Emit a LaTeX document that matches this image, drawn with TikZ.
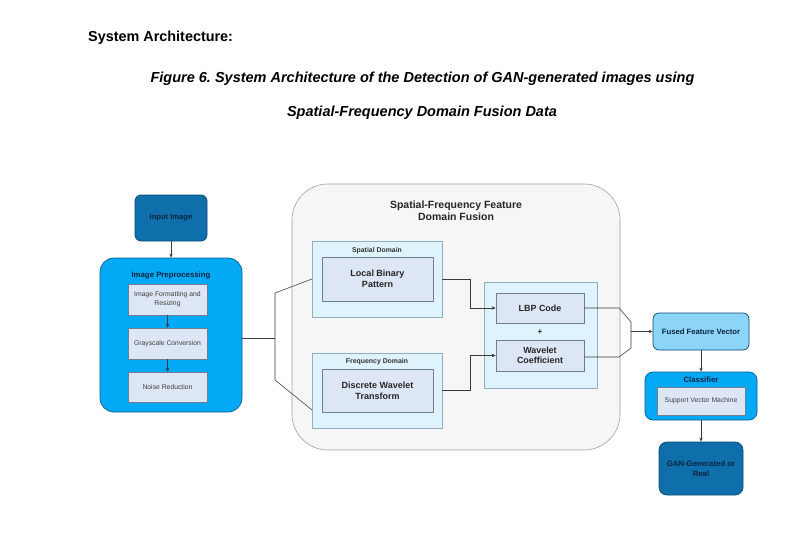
\documentclass[tikz,border=0pt]{standalone}
\usepackage{fontspec}
\setmainfont{Liberation Sans}
\usetikzlibrary{arrows.meta,calc}
\frenchspacing
\definecolor{darkfill}{HTML}{0E6FAA}
\definecolor{darkline}{HTML}{0A4A75}
\definecolor{brightfill}{HTML}{03A9F4}
\definecolor{brightline}{HTML}{0B5C8F}
\definecolor{innerfill}{HTML}{DDE6F4}
\definecolor{innerline}{HTML}{6F7E92}
\definecolor{domfill}{HTML}{DFF3FC}
\definecolor{domline}{HTML}{8FAFC0}
\definecolor{bigfill}{HTML}{F6F6F6}
\definecolor{bigline}{HTML}{A0A0A0}
\definecolor{fusedfill}{HTML}{8DD5F6}
\definecolor{navytext}{HTML}{0B2540}
\definecolor{linec}{HTML}{3A3A3A}
\tikzset{
  base/.style={draw, inner sep=0pt, align=center, text=navytext},
  darkbox/.style={base, fill=darkfill, draw=darkline, line width=0.7pt, rounded corners=6pt, font=\bfseries\fontsize{7.6}{9}\selectfont},
  brightbox/.style={base, fill=brightfill, draw=brightline, line width=0.7pt},
  smallbox/.style={base, fill=innerfill, draw=innerline, line width=0.5pt, font=\fontsize{6.8}{8.6}\selectfont, text=black!75},
  dombox/.style={base, fill=domfill, draw=domline, line width=0.6pt},
  midbox/.style={base, fill=innerfill, draw=innerline, line width=0.6pt, font=\bfseries\fontsize{9}{11.2}\selectfont, text=black!85},
  conn/.style={draw=linec, line width=0.55pt},
  arr/.style={conn, -{Stealth[length=4pt,width=3.4pt]}},
}
\begin{document}
\begin{tikzpicture}[x=1pt,y=-1pt]
\useasboundingbox (0,0) rectangle (801,535);
\fill[white] (0,0) rectangle (801,535);

% header
\node[anchor=west, font=\bfseries\fontsize{14.4}{16}\selectfont, inner sep=0pt] (hdr) at (88,37.5) {System Architecture:};
\node[font=\bfseries\itshape\fontsize{14.5}{16}\selectfont, inner sep=0pt] (cap1) at (422.5,78.5) {Figure 6. System Architecture of the Detection of GAN-generated images using};
\node[font=\bfseries\itshape\fontsize{14.5}{16}\selectfont, inner sep=0pt] (cap2) at (422,113) {Spatial-Frequency Domain Fusion Data};

% left column
\node[darkbox, minimum width=72pt, minimum height=46pt] (input) at (171,218) {Input Image};
\node[brightbox, rounded corners=14pt, minimum width=142pt, minimum height=154pt] (prep) at (171,335) {};
\node[font=\bfseries\fontsize{7.8}{9}\selectfont, text=navytext, inner sep=0pt] (preptitle) at (171,275) {Image Preprocessing};
\node[smallbox, minimum width=79pt, minimum height=31pt] (f1) at (167.5,299.5) {Image Formatting and\\Resizing};
\node[smallbox, minimum width=79pt, minimum height=31pt] (f2) at (167.5,343.5) {Grayscale Conversion};
\node[smallbox, minimum width=79pt, minimum height=30pt] (f3) at (167.5,387) {Noise Reduction};
\draw[arr] (input.south) -- (prep.north);
\draw[arr] (f1.south) -- (f2.north);
\draw[arr] (f2.south) -- (f3.north);

% big fusion container
\node[base, fill=bigfill, draw=bigline, line width=0.6pt, rounded corners=36pt, minimum width=328pt, minimum height=266pt] (big) at (456,317) {};
\node[font=\bfseries\fontsize{10.5}{12}\selectfont, align=center, text=black!85, inner sep=0pt] (bigtitle) at (456,210.5) {Spatial-Frequency Feature\\Domain Fusion};

\node[dombox, minimum width=130pt, minimum height=76pt] (spatial) at (377,279) {};
\node[font=\bfseries\fontsize{6.9}{8}\selectfont, text=black!80, inner sep=0pt] (spatiallbl) at (377,251) {Spatial Domain};
\node[midbox, minimum width=111pt, minimum height=44pt] (lbp) at (377.5,279) {Local Binary\\Pattern};

\node[dombox, minimum width=130pt, minimum height=75pt] (freq) at (377,390.5) {};
\node[font=\bfseries\fontsize{6.9}{8}\selectfont, text=black!80, inner sep=0pt] (freqlbl) at (377,362) {Frequency Domain};
\node[midbox, minimum width=111pt, minimum height=43pt] (dwt) at (377.5,390.5) {Discrete Wavelet\\Transform};

\node[dombox, minimum width=113pt, minimum height=106pt] (fusion) at (540.5,335) {};
\node[midbox, minimum width=88pt, minimum height=30pt, font=\bfseries\fontsize{8.9}{10.5}\selectfont] (lbpc) at (540,308) {LBP Code};
\node[font=\bfseries\fontsize{8}{8}\selectfont, text=black!85, inner sep=0pt] (plus) at (540,332) {+};
\node[midbox, minimum width=88pt, minimum height=31pt, font=\bfseries\fontsize{8.9}{10.5}\selectfont] (wav) at (540,355.5) {Wavelet\\Coefficient};

% bracket from preprocessing to domains
\coordinate (b0) at (275,338);
\coordinate (bt) at (275,293);
\coordinate (bb) at (275,380);
\coordinate (st) at (312,279);
\coordinate (fb) at (312,410);
\draw[conn] (prep.east |- b0) -- (b0);
\draw[conn] (st) -- (bt) -- (bb) -- (fb);

% domain to fusion
\draw[arr] (spatial.east) -- ++(28,0) |- (lbpc.west);
\draw[arr] (freq.east) -- ++(28,0) |- (wav.west);

% right column
\node[base, fill=fusedfill, draw=darkline, line width=0.7pt, rounded corners=6pt, minimum width=96pt, minimum height=37pt, font=\bfseries\fontsize{7.7}{9}\selectfont] (fused) at (701,331.5) {Fused Feature Vector};
\node[brightbox, rounded corners=8pt, minimum width=112pt, minimum height=48pt] (clf) at (701,396) {};
\node[font=\bfseries\fontsize{7.7}{9}\selectfont, text=navytext, inner sep=0pt] (clftitle) at (701,379.5) {Classifier};
\node[smallbox, minimum width=88pt, minimum height=28pt] (svm) at (701,401) {Support Vector Machine};
\node[darkbox, minimum width=84pt, minimum height=53pt, rounded corners=8pt, font=\bfseries\fontsize{7.8}{9.5}\selectfont] (gan) at (701,468.5) {GAN-Generated or\\Real};

% merge to fused vector
\coordinate (m1) at (619,308);
\coordinate (m2) at (631,322);
\coordinate (m3) at (631,348);
\coordinate (m4) at (619,357);
\coordinate (mc) at (631,331.5);
\draw[conn] (lbpc.east |- m1) -- (m1) -- (m2) -- (m3) -- (m4) -- (wav.east |- m4);
\draw[arr] (mc) -- (fused.west);
\draw[arr] (fused.south) -- (clf.north);
\draw[arr] (clf.south) -- (gan.north);
\end{tikzpicture}
\end{document}
